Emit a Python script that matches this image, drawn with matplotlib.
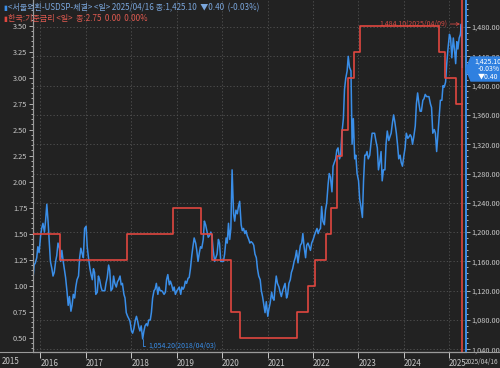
import pandas as pd
import numpy as np
import matplotlib
matplotlib.use('Agg')
import matplotlib.pyplot as plt
import matplotlib.dates as mdates
from matplotlib.ticker import FuncFormatter, MultipleLocator

plt.rcParams['font.family'] = ['Noto Sans CJK KR', 'DejaVu Sans']

BG = '#222222'
FG = '#c8c8c8'
BLUE = '#3a8ee8'
RED = '#e0473f'
GRID = '#555555'

# USD/KRW, three readings per month (days 3, 12, 22)
usd_2015 = [1135, 1155, 1158, 1165, 1180, 1172]  # Nov-Dec
usd_2016 = [1195, 1205, 1212, 1200, 1215, 1238, 1215, 1190, 1160, 1150, 1140, 1145,
            1160, 1168, 1185, 1178, 1160, 1175, 1160, 1150, 1138, 1118, 1100, 1112,
            1092, 1100, 1115, 1110, 1125, 1135, 1140, 1165, 1178, 1170, 1165, 1205]
usd_2017 = [1208, 1180, 1165, 1150, 1142, 1135, 1150, 1145, 1115, 1118, 1140, 1135,
            1125, 1120, 1120, 1120, 1130, 1138, 1155, 1148, 1120, 1123, 1140, 1130,
            1125, 1132, 1135, 1140, 1128, 1130, 1115, 1110, 1090, 1085, 1082, 1078]
usd_2018 = [1065, 1062, 1068, 1080, 1085, 1078, 1070, 1065, 1072, 1054.2, 1064, 1072,
            1075, 1072, 1080, 1080, 1090, 1110, 1120, 1122, 1130, 1115, 1125, 1120,
            1120, 1118, 1115, 1118, 1135, 1142, 1128, 1133, 1128, 1120, 1125, 1115]
usd_2019 = [1120, 1122, 1125, 1115, 1125, 1122, 1125, 1133, 1130, 1137, 1138, 1150,
            1168, 1180, 1192, 1185, 1175, 1160, 1172, 1180, 1178, 1190, 1215, 1210,
            1200, 1193, 1195, 1200, 1195, 1175, 1160, 1165, 1170, 1190, 1185, 1160]
usd_2020 = [1160, 1160, 1170, 1192, 1185, 1212, 1190, 1205, 1285, 1225, 1215, 1230,
            1225, 1235, 1242, 1210, 1202, 1205, 1198, 1202, 1195, 1190, 1185, 1187,
            1185, 1182, 1170, 1165, 1150, 1140, 1135, 1120, 1112, 1100, 1090, 1105]
usd_2021 = [1085, 1095, 1103, 1118, 1110, 1107, 1125, 1140, 1130, 1125, 1118, 1112,
            1120, 1125, 1130, 1110, 1115, 1130, 1135, 1145, 1150, 1160, 1165, 1175,
            1158, 1170, 1182, 1185, 1198, 1180, 1165, 1182, 1185, 1180, 1175, 1185]
usd_2022 = [1190, 1195, 1200, 1205, 1198, 1203, 1205, 1235, 1215, 1210, 1230, 1240,
            1265, 1280, 1275, 1255, 1290, 1295, 1300, 1312, 1315, 1300, 1305, 1335,
            1355, 1395, 1410, 1420, 1440, 1425, 1420, 1320, 1355, 1300, 1305, 1280]
usd_2023 = [1270, 1245, 1235, 1220, 1270, 1305, 1305, 1310, 1300, 1305, 1320, 1335,
            1335, 1335, 1325, 1315, 1285, 1295, 1310, 1270, 1285, 1285, 1320, 1338,
            1325, 1330, 1335, 1350, 1360, 1350, 1335, 1320, 1300, 1305, 1295, 1290]
usd_2024 = [1305, 1315, 1335, 1328, 1330, 1333, 1330, 1320, 1330, 1345, 1375, 1390,
            1375, 1365, 1365, 1380, 1382, 1388, 1385, 1385, 1385, 1375, 1370, 1335,
            1340, 1335, 1310, 1335, 1355, 1380, 1380, 1400, 1398, 1405, 1430, 1450]
usd_2025 = [1470, 1465, 1438, 1465, 1450, 1430, 1460, 1450, 1465]  # Jan-Mar
usd_apr25 = [1470, 1484.10, 1425.10]
apr25_days = ['2025-04-01', '2025-04-09', '2025-04-16']

# Korea base rate changes (step)
rate_dates = ['2015-11-03', '2016-06-09', '2017-11-30', '2018-11-30', '2019-07-18',
              '2019-10-16', '2020-03-16', '2020-05-28', '2021-08-26', '2021-11-25',
              '2022-01-14', '2022-04-14', '2022-05-26', '2022-07-13', '2022-08-25',
              '2022-10-12', '2022-11-24', '2023-01-13', '2024-10-11', '2024-11-28',
              '2025-02-25', '2025-04-16']
rates = [1.50, 1.25, 1.50, 1.75, 1.50, 1.25, 0.75, 0.50, 0.75, 1.00, 1.25, 1.50,
         1.75, 2.25, 2.50, 3.00, 3.25, 3.50, 3.25, 3.00, 2.75, 2.75]

years = [2016, 2017, 2018, 2019, 2020, 2021, 2022, 2023, 2024, 2025]


def month_dates(year, months):
    out = []
    for m in months:
        for d in (3, 12, 22):
            out.append(pd.Timestamp(year, m, d))
    return out


dates = month_dates(2015, [11, 12])
for y in range(2016, 2025):
    dates += month_dates(y, range(1, 13))
dates += month_dates(2025, [1, 2, 3])
dates += [pd.Timestamp(d) for d in apr25_days]
usd = (usd_2015 + usd_2016 + usd_2017 + usd_2018 + usd_2019 + usd_2020 + usd_2021
       + usd_2022 + usd_2023 + usd_2024 + usd_2025 + usd_apr25)
assert len(dates) == len(usd)
usd = np.array(usd)
rate_dt = pd.to_datetime(rate_dates)

W, H = 500, 368
fig = plt.figure(figsize=(5, 3.68), dpi=100, facecolor=BG)
ax = fig.add_axes([33 / W, (H - 352) / H, (466 - 33) / W, 352 / H], facecolor=BG)
axl = ax.twinx()
ax.yaxis.tick_right()
axl.yaxis.tick_left()

# blue series (right axis)
ax.plot(dates, usd, color=BLUE, lw=1.1, zorder=3)
ax.set_ylim(1036.3, 1516.9)
ax.yaxis.set_major_locator(MultipleLocator(40))
ax.yaxis.set_minor_locator(MultipleLocator(8))
ax.yaxis.set_major_formatter(FuncFormatter(lambda v, p: f'{v:,.2f}'))
ax.set_xlim(pd.Timestamp('2015-11-03'), pd.Timestamp('2025-05-16'))
ax.set_xticks([pd.Timestamp(y, 1, 1) for y in years])
ax.xaxis.set_major_formatter(mdates.DateFormatter('%Y'))
for lbl in ax.get_xticklabels():
    lbl.set_horizontalalignment('left')
ax.tick_params(axis='x', colors=FG, labelsize=5.8, length=4, width=0.7, pad=1)
ax.tick_params(axis='y', which='both', colors=FG, labelsize=5.3, length=3, width=0.6, pad=1)
ax.tick_params(axis='y', which='minor', length=1.5)
ax.grid(True, color=GRID, ls=(0, (1.5, 2.5)), lw=0.6)

# red series (left axis)
axl.step(rate_dt, rates, where='post', color=RED, lw=1.2, zorder=4)
axl.axvline(dates[-1], color=RED, lw=1.2)
axl.set_ylim(0.3625, 3.747)
axl.yaxis.set_major_locator(MultipleLocator(0.25))
axl.yaxis.set_minor_locator(MultipleLocator(0.05))
axl.yaxis.set_major_formatter(FuncFormatter(lambda v, p: f'{v:.2f}'))
axl.tick_params(axis='y', which='both', colors=FG, labelsize=5.3, length=3, width=0.6, pad=1)
axl.tick_params(axis='y', which='minor', length=1.5)

for a in (ax, axl):
    a.spines['top'].set_visible(False)
    a.spines['left'].set_color('#9a9a9a')
    a.spines['bottom'].set_color('#9a9a9a')
    a.spines['right'].set_color(BLUE)
    a.spines['right'].set_linewidth(1.2)

# max / min notes
imax = int(np.argmax(usd))
imin = int(np.argmin(usd))
ax.annotate(f'{usd[imax]:,.2f}({dates[imax]:%Y/%m/%d})', xy=(dates[imax], usd[imax]),
            xytext=(-10, 0), textcoords='offset points', ha='right', va='center',
            fontsize=5, color='#d04a44',
            arrowprops=dict(arrowstyle='->', color='#d04a44', lw=0.6, shrinkA=0, shrinkB=1))
ax.annotate(f'{usd[imin]:,.2f}({dates[imin]:%Y/%m/%d})', xy=(dates[imin], usd[imin]),
            xytext=(4, -5), textcoords='offset points', ha='left', va='center',
            fontsize=5, color=BLUE,
            arrowprops=dict(arrowstyle='-', color=BLUE, lw=0.6, shrinkA=0, shrinkB=0,
                            connectionstyle='angle,angleA=0,angleB=90,rad=0'))

# bottom rule and extra labels
fig.add_artist(plt.Line2D([0, 1], [(H - 352) / H] * 2, color='#9a9a9a', lw=0.8))
fig.text(2 / W, 1 - 362 / H, '2015', color=FG, fontsize=5.8, va='center', ha='left')
fig.text(465 / W, 1 - 362 / H, f'{dates[-1]:%Y/%m/%d}', color=FG, fontsize=4.6, va='center', ha='left')

# current value box on the right axis
box_y0, box_y1 = 57, 81
fig.add_artist(plt.Polygon([[466 / W, 1 - 69 / H], [471 / W, 1 - box_y0 / H], [1, 1 - box_y0 / H],
                            [1, 1 - box_y1 / H], [471 / W, 1 - box_y1 / H]],
                           closed=True, color='#2f80e0', transform=fig.transFigure))
last = usd[-1]
fig.text(474 / W, 1 - 61.5 / H, f'{last:,.2f}', color='white', fontsize=5, va='center')
fig.text(478 / W, 1 - 69 / H, '-0.03%', color='white', fontsize=5, va='center')
fig.text(478 / W, 1 - 76.5 / H, '▼0.40', color='white', fontsize=5, va='center')

# header lines
fig.text(3 / W, 1 - 8 / H, '▮', color=BLUE, fontsize=5, va='center')
fig.text(8 / W, 1 - 8 / H, '<서울외환-USDSP-체결> <일> 2025/04/16 종:1,425.10  ▼0.40  (-0.03%)',
         color='#7aa6dc', fontsize=5.8, va='center')
fig.text(3 / W, 1 - 19 / H, '▮', color=RED, fontsize=5, va='center')
fig.text(8 / W, 1 - 19 / H, '한국:기준금리 <일>  종:2.75  0.00  0.00%',
         color='#e05a50', fontsize=5.8, va='center')

fig.savefig('out.png', dpi=100, facecolor=BG)
